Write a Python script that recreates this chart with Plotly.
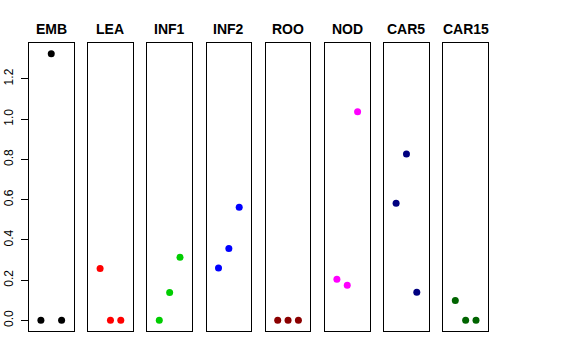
import plotly.graph_objects as go

tissues = ["EMB", "LEA", "INF1", "INF2", "ROO", "NOD", "CAR5", "CAR15"]
colors = ["#000000", "#FF0000", "#00CD00", "#0000FF", "#8B0000", "#FF00FF", "#000080", "#006400"]
x_pos = [1, 2, 3]
values = {
    "EMB":   [0.0, 1.325, 0.0],
    "LEA":   [0.257, 0.0, 0.0],
    "INF1":  [0.0, 0.138, 0.313],
    "INF2":  [0.26, 0.357, 0.562],
    "ROO":   [0.0, 0.0, 0.0],
    "NOD":   [0.204, 0.174, 1.036],
    "CAR5":  [0.582, 0.827, 0.139],
    "CAR15": [0.098, 0.0, 0.0],
}
y_ticks = [0.0, 0.2, 0.4, 0.6, 0.8, 1.0, 1.2]

W, H = 576, 360
fig = go.Figure()
layout = dict(
    width=W, height=H, margin=dict(l=0, r=0, t=0, b=0, autoexpand=False),
    plot_bgcolor="white", paper_bgcolor="white", showlegend=False,
    font=dict(family="Liberation Sans, Arial, sans-serif", color="black"),
)
left0, step, pw = 29, 59.2, 44.5
ytop, ybot = 43, 331
yrange = [-0.053, 1.378]
annotations = []
for i, t in enumerate(tissues):
    ax = "" if i == 0 else str(i + 1)
    x0 = (left0 + step * i) / W
    x1 = (left0 + step * i + pw) / W
    fig.add_trace(go.Scatter(
        x=x_pos, y=values[t], mode="markers",
        marker=dict(color=colors[i], size=7),
        xaxis="x" + ax, yaxis="y" + ax, hoverinfo="skip",
    ))
    layout["xaxis" + ax] = dict(
        domain=[x0, x1], range=[-0.15, 4.15], showticklabels=False,
        ticks="", showgrid=False, zeroline=False, showline=True,
        linecolor="black", linewidth=1, mirror=True, anchor="y" + ax,
        automargin=False,
    )
    yax = dict(
        domain=[1 - ybot / H, 1 - ytop / H], range=yrange, showgrid=False,
        zeroline=False, showline=True, linecolor="black", linewidth=1,
        mirror=True, anchor="x" + ax, automargin=False,
    )
    if i == 0:
        yax.update(tickvals=y_ticks, ticktext=[f"{v:.1f}" for v in y_ticks],
                   ticks="outside", ticklen=7, tickcolor="black",
                   tickangle=-90, tickfont=dict(size=12), ticklabelstandoff=3)
    else:
        yax.update(showticklabels=False, ticks="")
    layout["yaxis" + ax] = yax
    annotations.append(dict(
        text="<b>" + t + "</b>", x=(x0 + x1) / 2, y=1 - 29 / H,
        xref="paper", yref="paper", showarrow=False,
        font=dict(size=14, color="black"), xanchor="center", yanchor="middle",
    ))
layout["annotations"] = annotations
fig.update_layout(**layout)
fig.write_html("out.html", config={"displayModeBar": False},
               post_script="document.body.style.margin='0';")
